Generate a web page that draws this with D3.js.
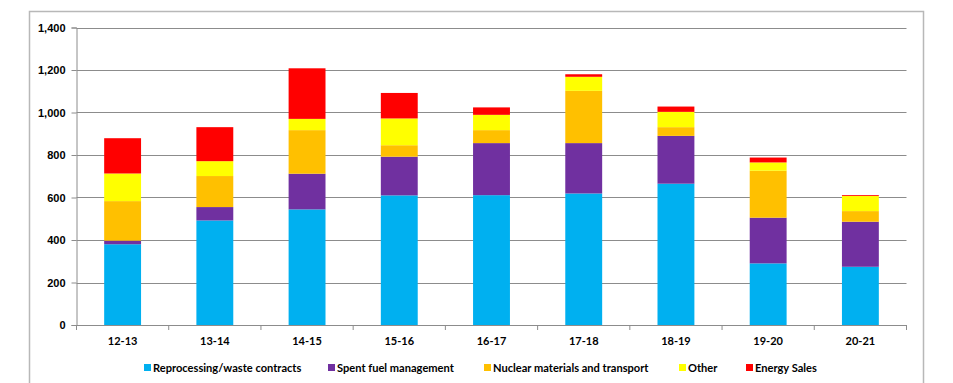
<!DOCTYPE html>
<html><head><meta charset="utf-8">
<script src="https://cdn.jsdelivr.net/npm/d3@7"></script>
<style>
body{margin:0;background:#fff;}
svg{display:block;font-family:Lato,"Open Sans",sans-serif;}
</style></head>
<body><svg id="c" width="953" height="383"></svg>
<script>
const categories = ["12-13","13-14","14-15","15-16","16-17","17-18","18-19","19-20","20-21"];
const seriesNames = ["Reprocessing/waste contracts","Spent fuel management","Nuclear materials and transport","Other","Energy Sales"];
const seriesColors = ["#00b0f0","#7030a0","#ffc000","#ffff00","#ff0000"];
const reprocessing = [380,492,544,610,611,619,665,290,274];
const spentFuel    = [17,63,168,182,245,237,225,215,212];
const nuclearMat   = [186,146,205,54,61,246,41,221,50];
const other        = [130,70,53,126,72,66,72,39,71];
const energySales  = [166,160,238,120,35,12,25,23,4];
const yTicks = [0,200,400,600,800,1000,1200,1400];

(function(){
const svg = d3.select("#c");
const pL=76.5, pR=906.5, pT=27.5, pB=325;
const x = d3.scaleBand().domain(categories).range([pL,pR]).paddingInner(0.6).paddingOuter(0.3);
const y = d3.scaleLinear().domain([0,1400]).range([pB,pT]);

// outer frame
svg.append("path").attr("d",`M29.5,383 V11.5 H923.5 V383`).attr("fill","none").attr("stroke","#b8b8b8").attr("stroke-width",1.5);

// gridlines
svg.append("g").selectAll("line").data(yTicks.slice(1)).join("line")
  .attr("x1",pL).attr("x2",pR).attr("y1",d=>Math.round(y(d))+0.5).attr("y2",d=>Math.round(y(d))+0.5)
  .attr("stroke","#8c8c8c").attr("stroke-width",1);

const keys = ["r","s","n","o","e"];
const rows = categories.map((c,i)=>({cat:c,r:reprocessing[i],s:spentFuel[i],n:nuclearMat[i],o:other[i],e:energySales[i]}));
const stack = d3.stack().keys(keys)(rows);
svg.append("g").selectAll("g").data(stack).join("g").attr("fill",(d,i)=>seriesColors[i])
  .selectAll("rect").data(d=>d).join("rect")
  .attr("x",d=>x(d.data.cat)).attr("width",x.bandwidth())
  .attr("y",d=>y(d[1])).attr("height",d=>y(d[0])-y(d[1]));

// y axis
const ya = svg.append("g").attr("transform",`translate(${pL},0)`)
  .call(d3.axisLeft(y).tickValues(yTicks).tickSize(5).tickPadding(6).tickFormat(d3.format(",")));
ya.select(".domain").attr("stroke","#8c8c8c");
ya.selectAll(".tick line").attr("stroke","#8c8c8c");
ya.selectAll("text").attr("font-size",11).attr("font-weight","bold").attr("fill","#000");

// x axis
const xa = svg.append("g").attr("transform",`translate(0,${pB})`);
xa.append("line").attr("x1",pL).attr("x2",pR).attr("y1",0.5).attr("y2",0.5).attr("stroke","#8c8c8c");
const bounds = d3.range(categories.length+1).map(i=>pL+i*(pR-pL)/categories.length);
xa.selectAll("line.t").data(bounds).join("line").attr("class","t")
  .attr("x1",d=>d).attr("x2",d=>d).attr("y1",0).attr("y2",5).attr("stroke","#8c8c8c");
xa.selectAll("text").data(categories).join("text")
  .attr("x",d=>x(d)+x.bandwidth()/2).attr("y",20).attr("text-anchor","middle")
  .attr("font-size",11).attr("font-weight","bold").text(d=>d);

// legend
const legX = [144,328,484,679,746];
const lg = svg.append("g").selectAll("g").data(seriesNames).join("g")
  .attr("transform",(d,i)=>`translate(${legX[i]},368)`);
lg.append("rect").attr("x",0).attr("y",-4).attr("width",7).attr("height",7).attr("fill",(d,i)=>seriesColors[i]);
lg.append("text").attr("x",9).attr("y",4).attr("font-size",11.1).attr("font-weight","bold").text(d=>d);
})();
</script></body></html>
